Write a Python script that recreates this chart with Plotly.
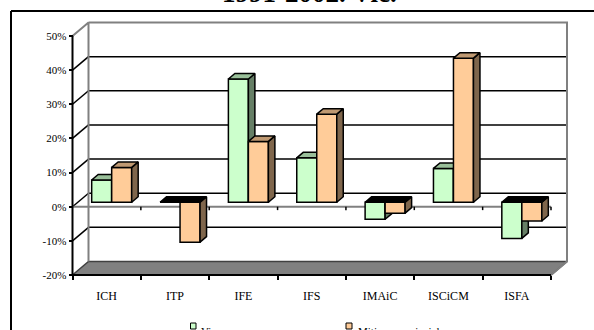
import plotly.graph_objects as go

categories = ["ICH", "ITP", "IFE", "IFS", "IMAiC", "ISCiCM", "ISFA"]
vic = [6.5, 0, 36.1, 13, -5, 9.9, -10.6]
mitjana = [10.2, -11.7, 17.8, 25.8, -3.2, 42.2, -5.5]
y_ticks = [-20, -10, 0, 10, 20, 30, 40, 50]
y_labels = ["-20%", "-10%", "0%", "10%", "20%", "30%", "40%", "50%"]

W, H = 594, 330
X0, X1, Y_TOP, Y_BOT = 72.5, 551, 36, 275
PX_CAT = (X1 - X0) / 7
PX_PCT = (Y_BOT - Y_TOP) / 70
Y_ZERO = Y_BOT - 20 * PX_PCT
DX = 16 / PX_CAT          # wall depth, category units
DY = 13.5 / PX_PCT        # wall depth, percent units
BAR_W = 20 / PX_CAT
BAR_SHIFT = 5 / PX_CAT
BAR_BASE = 4.5 / PX_PCT
BDX = 6.5 / PX_CAT
BDY = 5.5 / PX_PCT
X_RANGE = [-X0 / PX_CAT, (W - X0) / PX_CAT]
Y_RANGE = [-(H - Y_ZERO) / PX_PCT, Y_ZERO / PX_PCT]

fig = go.Figure()


def poly(xs, ys, fill, axis="", line="#000000", lw=1.5):
    fig.add_trace(go.Scatter(x=xs, y=ys, mode="lines", fill="toself", fillcolor=fill,
                             line=dict(color=line, width=lw),
                             hoverinfo="skip", showlegend=False,
                             xaxis="x" + axis, yaxis="y" + axis))


def seg(xs, ys, color="#000000", lw=1.5, axis=""):
    fig.add_trace(go.Scatter(x=xs, y=ys, mode="lines", line=dict(color=color, width=lw),
                             hoverinfo="skip", showlegend=False,
                             xaxis="x" + axis, yaxis="y" + axis))


# floor and walls
poly([0, 7, 7 + DX, DX, 0], [-20, -20, -20 + DY, -20 + DY, -20], "#808080", line="#404040")
for t in y_ticks[1:-1]:
    seg([DX, 7 + DX], [t + DY, t + DY], "#000000", 1.5)
    seg([0, DX], [t, t + DY], "#000000", 1.5)
seg([0, DX, DX], [50, 50 + DY, -20 + DY], "#808080", 2)
seg([DX, 7 + DX, 7 + DX, 7], [50 + DY, 50 + DY, -20 + DY, -20], "#808080", 2)
seg([0, 7], [0, 0], "#808080", 2)
for i in range(1, 8):
    seg([i, i], [0, -1.0], "#000000", 1.5)
# front axis lines
seg([0, 0], [-20, 50], "#000000", 2)
seg([0, 7], [-20, -20], "#000000", 2)


def series(values, side, axis, front, top, dark, name):
    xs = [i + 0.5 + BAR_SHIFT + side * BAR_W / 2 for i in range(len(values))]
    fig.add_trace(go.Bar(x=xs, y=values, base=[BAR_BASE] * len(values), width=BAR_W,
                         marker=dict(color=front, line=dict(color="#000000", width=1.5)),
                         name=name, showlegend=False,
                         xaxis="x" + axis, yaxis="y" + axis))
    for x, v in zip(xs, values):
        l, r = x - BAR_W / 2, x + BAR_W / 2
        b, t = BAR_BASE, BAR_BASE + v
        hi, lo = max(b, t), min(b, t)
        poly([r, r + BDX, r + BDX, r, r], [hi, hi + BDY, lo + BDY, lo, hi], dark, axis)
        poly([l, l + BDX, r + BDX, r, l], [hi, hi + BDY, hi + BDY, hi, hi],
             "#000000" if v <= 0 else top, axis)


series(vic, -1, "2", "#CCFFCC", "#99BF99", "#667F66", "Vic")
series(mitjana, 1, "3", "#FFCC99", "#BF9972", "#7F664C", "Mitjana provincial")

ax = dict(range=X_RANGE, domain=[0, 1], showgrid=False, zeroline=False)
ay = dict(range=Y_RANGE, domain=[0, 1], showgrid=False, zeroline=False)
font = dict(family="Liberation Serif", size=12, color="#000000")
font_y = dict(family="Liberation Serif", size=11, color="#000000")
hidden = dict(visible=False)
fig.update_layout(
    width=W, height=H, autosize=False,
    margin=dict(l=0, r=0, t=0, b=0),
    paper_bgcolor="#FFFFFF", plot_bgcolor="rgba(0,0,0,0)",
    barmode="overlay", showlegend=False, font=font,
    xaxis=dict(ax, anchor="free", position=1 - Y_BOT / H, side="bottom",
               tickmode="array", tickvals=[i + 0.5 for i in range(7)], ticktext=categories,
               ticks="", ticklen=0, ticklabelstandoff=12, showline=False,
               tickfont=font,
               minor=dict(tickmode="array", tickvals=list(range(8)), ticks="outside", ticklen=4,
                          tickcolor="#000000", tickwidth=1.5)),
    yaxis=dict(ay, anchor="free", position=X0 / W, side="left",
               tickmode="array", tickvals=y_ticks, ticktext=y_labels, ticks="outside", ticklen=4,
               tickcolor="#000000", tickwidth=1.5, showline=False,
               tickfont=font_y),
    xaxis2=dict(ax, overlaying="x", **hidden), yaxis2=dict(ay, overlaying="y", **hidden),
    xaxis3=dict(ax, overlaying="x", **hidden), yaxis3=dict(ay, overlaying="y", **hidden),
    shapes=[
        dict(type="line", xref="paper", yref="paper", x0=11 / W, x1=1, y0=1 - 11 / H, y1=1 - 11 / H,
             line=dict(color="#000000", width=2)),
        dict(type="line", xref="paper", yref="paper", x0=11 / W, x1=11 / W, y0=0, y1=1 - 11 / H,
             line=dict(color="#000000", width=2)),
        dict(type="rect", xref="paper", yref="paper", x0=190.5 / W, x1=196 / W, y0=1 - 329 / H, y1=1 - 323 / H,
             fillcolor="#CCFFCC", line=dict(color="#000000", width=1)),
        dict(type="rect", xref="paper", yref="paper", x0=346 / W, x1=352 / W, y0=1 - 329 / H, y1=1 - 323 / H,
             fillcolor="#FFCC99", line=dict(color="#000000", width=1)),
    ],
    annotations=[
        dict(text="<b>1991-2002. Vic.</b>", xref="paper", yref="paper", x=309 / W, y=1 + 6.5 / H,
             xanchor="center", yanchor="middle", showarrow=False,
             font=dict(family="Liberation Serif", size=27, color="#000000")),
        dict(text="Vic", xref="paper", yref="paper", x=199 / W, y=1 - 331 / H, xanchor="left", yanchor="middle",
             showarrow=False, font=font_y),
        dict(text="Mitjana provincial", xref="paper", yref="paper", x=356 / W, y=1 - 331 / H, xanchor="left",
             yanchor="middle", showarrow=False, font=font_y),
    ],
)
fig.write_html("out.html", config={"displayModeBar": False},
               post_script="document.body.style.margin='0';document.body.style.overflow='hidden';")
